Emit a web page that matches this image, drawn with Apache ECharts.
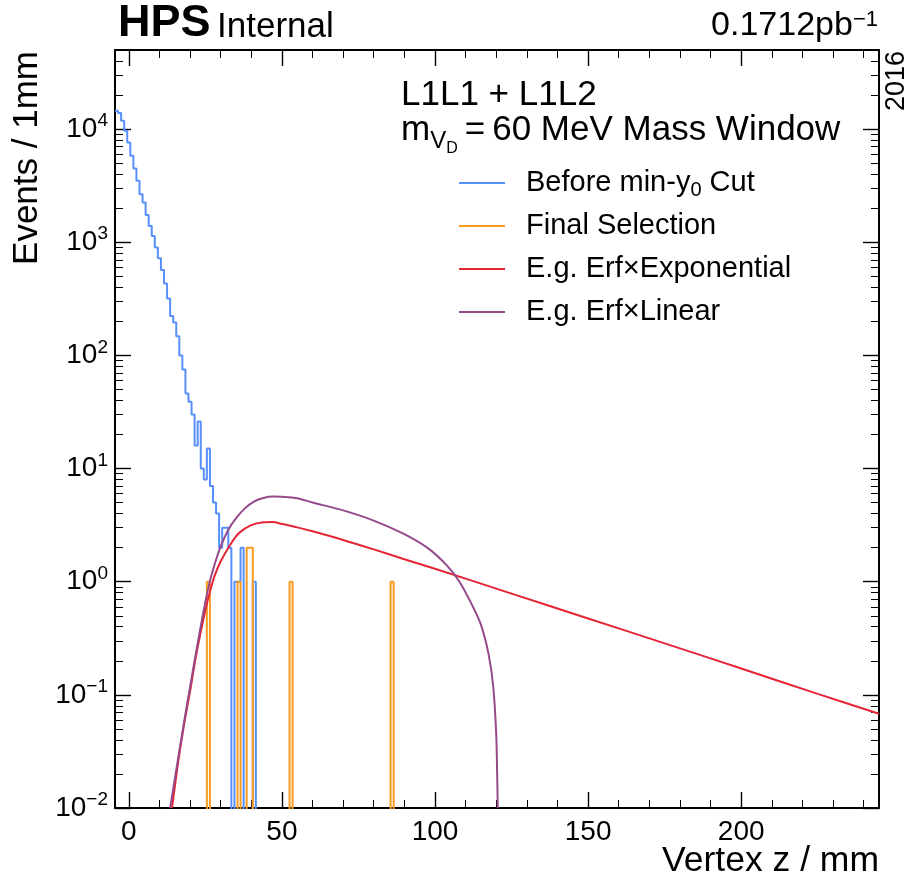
<!DOCTYPE html>
<html>
<head>
<meta charset="utf-8">
<title>Vertex z</title>
<script src="https://cdn.jsdelivr.net/npm/echarts@6.0.0/dist/echarts.min.js"></script>
<style>
html, body { margin: 0; padding: 0; background: #fff; }
#chart { width: 911px; height: 881px; }
</style>
</head>
<body>
<div id="chart"></div>
<script>
var FONT = "'Liberation Sans', Arial, sans-serif";
var FLOOR = 1e-3; // empty bins go below the axis and get clipped

// 1 mm bins, the first one is centred at -4 mm
var binStart = -4.5;
var beforeCut = [14500, 13900, 11850, 9660, 7620, 5810, 4490, 3490, 2660, 2240,
  1745, 1395, 1137, 898, 721, 569, 431, 318, 223, 195,
  148, 100, 75, 46, 39, 30, 16, 26, 10, 8,
  15, 7, 5, 4, 2, 3, 3, 2, 0, 1,
  1, 2, 0, 0, 0, 1];

// final selection, bin centres (mm) and counts
var finalBins = [26, 36, 39, 40, 53, 86];
var finalCounts = [1, 1, 2, 2, 1, 1];

// fit curves
var expZ = [14.1, 16, 18, 20, 22, 24, 26, 28, 30, 33, 36, 40, 44, 47, 50, 55, 60, 70, 80, 90, 100, 125, 150, 175, 200, 225, 245];
var expVal = [0.01, 0.024, 0.0537, 0.107, 0.224, 0.417, 0.724, 1.12, 1.51, 2.09, 2.69, 3.16, 3.35, 3.37, 3.24, 3.02, 2.79, 2.34, 1.93, 1.58, 1.30, 0.785, 0.473, 0.285, 0.171, 0.102, 0.068];
var linZ = [13.5, 16, 18, 20, 22, 24, 26, 28, 30, 32.5, 35, 38, 41, 44, 47, 50, 55, 60, 70, 80, 90, 98, 104, 108, 112, 115, 117.5, 119, 120, 120.3, 120.5];
var linVal = [0.01, 0.0263, 0.0562, 0.117, 0.24, 0.479, 0.891, 1.41, 2.04, 2.88, 3.63, 4.47, 5.13, 5.5, 5.65, 5.62, 5.46, 5.01, 4.27, 3.47, 2.63, 1.95, 1.38, 1.0, 0.631, 0.417, 0.229, 0.12, 0.0447, 0.02, 0.01];

var xMajor = [0, 50, 100, 150, 200];
var xMinor = [10, 20, 30, 40, 60, 70, 80, 90, 110, 120, 130, 140, 160, 170, 180, 190, 210, 220, 230, 240];
var yMajor = [0.01, 0.1, 1, 10, 100, 1000, 10000];
var yMinor = [];
for (var n = -2; n <= 4; n++) {
  for (var k = 2; k <= 9; k++) {
    var v = Number((k * Math.pow(10, n)).toPrecision(3));
    if (v <= 50000) yMinor.push(v);
  }
}

var X_MIN = -4.5, X_MAX = 245;
var Y_MIN = 0.01, Y_MAX = 50000;

function histLine(start, counts) {
  var pts = [];
  for (var i = 0; i < counts.length; i++) {
    var c = counts[i] > 0 ? counts[i] : FLOOR;
    pts.push([start + i, c]);
    pts.push([start + i + 1, c]);
  }
  return pts;
}

var bluePts = histLine(binStart, beforeCut);
bluePts.push([binStart + beforeCut.length, FLOOR]);

var lo = finalBins[0], hi = finalBins[finalBins.length - 1];
var dense = [];
for (var i = lo; i <= hi; i++) dense.push(0);
for (var j = 0; j < finalBins.length; j++) dense[finalBins[j] - lo] = finalCounts[j];
var orangePts = [[lo - 0.5, FLOOR]].concat(histLine(lo - 0.5, dense));
orangePts.push([hi + 0.5, FLOOR]);

function pairs(xs, ys) {
  return xs.map(function (x, i) { return [x, ys[i]]; });
}

function xAx(pos, ticks, len, major) {
  return {
    type: 'value', position: pos, min: X_MIN, max: X_MAX,
    axisLine: { show: major, onZero: false, lineStyle: { color: '#000', width: 2 } },
    axisTick: { show: true, inside: true, length: len, customValues: ticks,
      lineStyle: { color: '#000', width: major ? 1.4 : 1 } },
    axisLabel: major && pos === 'bottom' ? {
      show: true, customValues: ticks, margin: 10,
      fontFamily: FONT, fontSize: 28, color: '#000'
    } : { show: false },
    splitLine: { show: false }
  };
}

function yAx(pos, ticks, len, major) {
  return {
    type: 'log', logBase: 10, position: pos, min: Y_MIN, max: Y_MAX,
    axisLine: { show: major, onZero: false, lineStyle: { color: '#000', width: 2 } },
    axisTick: { show: true, inside: true, length: len, customValues: ticks,
      lineStyle: { color: '#000', width: major ? 1.4 : 1 } },
    axisLabel: major && pos === 'left' ? {
      show: true, customValues: ticks, margin: 7,
      formatter: function (val) {
        var e = Math.round(Math.log10(val));
        return '{b|10}{s|' + (e < 0 ? '\u2212' + (-e) : e) + '}';
      },
      rich: {
        b: { fontFamily: FONT, fontSize: 28, color: '#000' },
        s: { fontFamily: FONT, fontSize: 19, color: '#000', padding: [0, 0, 16, 0] }
      }
    } : { show: false },
    splitLine: { show: false }
  };
}

var chart = echarts.init(document.getElementById('chart'));
chart.setOption({
  animation: false,
  backgroundColor: '#fff',
  grid: { left: 115, top: 50, width: 764, height: 758, outerBoundsMode: 'none' },
  xAxis: [
    xAx('bottom', xMajor, 16, true),
    xAx('bottom', xMinor, 8, false),
    xAx('top', xMajor, 16, true),
    xAx('top', xMinor, 8, false)
  ],
  yAxis: [
    yAx('left', yMajor, 16, true),
    yAx('left', yMinor, 8, false),
    yAx('right', yMajor, 16, true),
    yAx('right', yMinor, 8, false)
  ],
  legend: {
    orient: 'vertical', left: 454, top: 161,
    itemWidth: 46, itemHeight: 2, itemGap: 9, icon: 'rect',
    textStyle: {
      fontFamily: FONT, fontSize: 29, color: '#000', lineHeight: 34, padding: [0, 0, 0, 16],
      rich: { sub: { fontFamily: FONT, fontSize: 20, color: '#000', padding: [14, 0, 0, 0] } }
    },
    formatter: function (name) { return name.replace('y0', 'y{sub|0}'); },
    data: ['Before min-y0 Cut', 'Final Selection', 'E.g. Erf\u00d7Exponential', 'E.g. Erf\u00d7Linear']
  },
  graphic: [
    { type: 'text', x: 118, y: 24, style: { text: 'HPS', font: 'bold 45px ' + FONT, fill: '#000', align: 'left', verticalAlign: 'middle' } },
    { type: 'text', x: 217, y: 27, style: { text: 'Internal', font: '35px ' + FONT, fill: '#000', align: 'left', verticalAlign: 'middle' } },
    { type: 'text', x: 878, y: 26, style: {
      text: '{a|0.1712pb}{s|\u22121}', fill: '#000', align: 'right', verticalAlign: 'middle',
      rich: { a: { font: '34px ' + FONT }, s: { font: '22px ' + FONT, padding: [0, 0, 12, 0] } }
    } },
    { type: 'text', x: 897, y: 51, rotation: Math.PI / 2, style: { text: '2016', font: '27px ' + FONT, fill: '#000', align: 'right', verticalAlign: 'middle' } },
    { type: 'text', x: 401, y: 95, style: { text: 'L1L1 + L1L2', font: '35px ' + FONT, fill: '#000', align: 'left', verticalAlign: 'middle' } },
    { type: 'text', x: 401, y: 130, style: {
      text: '{m|m}{v|V}{d|D}{m|\u2009=\u200960 MeV Mass Window}', fill: '#000', align: 'left', verticalAlign: 'middle',
      rich: {
        m: { font: '35px ' + FONT },
        v: { font: '24px ' + FONT, padding: [22, 0, 0, 0] },
        d: { font: '16px ' + FONT, padding: [37, 0, 0, 0] }
      }
    } },
    { type: 'text', x: 27, y: 51, rotation: Math.PI / 2, style: { text: 'Events / 1mm', font: '35px ' + FONT, fill: '#000', align: 'right', verticalAlign: 'middle' } },
    { type: 'text', x: 879, y: 861, style: { text: 'Vertex z / mm', font: '35.5px ' + FONT, fill: '#000', align: 'right', verticalAlign: 'middle' } }
  ],
  series: [
    {
      name: 'Before min-y0 Cut', type: 'line', symbol: 'none', clip: true,
      data: bluePts,
      itemStyle: { color: '#5790fc' }, lineStyle: { color: '#5790fc', width: 2 }
    },
    {
      name: 'Final Selection', type: 'line', symbol: 'none', clip: true,
      data: orangePts,
      itemStyle: { color: '#f89c20' }, lineStyle: { color: '#f89c20', width: 2 }
    },
    {
      name: 'E.g. Erf\u00d7Exponential', type: 'line', symbol: 'none', clip: true, smooth: 0.3,
      data: pairs(expZ, expVal),
      itemStyle: { color: '#e42536' }, lineStyle: { color: '#e42536', width: 2 }
    },
    {
      name: 'E.g. Erf\u00d7Linear', type: 'line', symbol: 'none', clip: true, smooth: 0.3,
      data: pairs(linZ, linVal),
      itemStyle: { color: '#964a8b' }, lineStyle: { color: '#964a8b', width: 2 }
    }
  ]
});
</script>
</body>
</html>
